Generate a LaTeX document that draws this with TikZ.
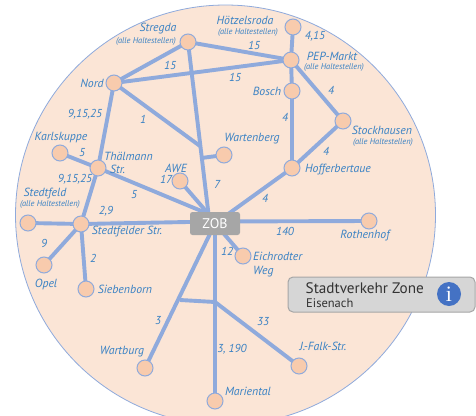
\documentclass[tikz,border=0pt]{standalone}
\usepackage{fontspec}
\setmainfont{PT Sans}
\newfontfamily\serifi{Liberation Serif}
\definecolor{disc}{HTML}{FBE5D6}
\definecolor{stationfill}{HTML}{F8CBAD}
\definecolor{route}{HTML}{8FAADC}
\definecolor{labelblue}{HTML}{3A82C4}
\definecolor{hubgrey}{HTML}{A6A6A6}
\definecolor{boxgrey}{HTML}{D6D6D6}
\definecolor{infoblue}{HTML}{4472C4}
\pgfdeclarelayer{disclayer}
\pgfdeclarelayer{routes}
\pgfsetlayers{disclayer,routes,main}
\tikzset{
  station/.style={circle,draw=route,fill=stationfill,line width=1pt,minimum size=16pt,inner sep=0pt},
  routeline/.style={draw=route,line width=3.9pt},
  stopname/.style={text=labelblue,font=\fontsize{11.8}{13.5}\selectfont\itshape,inner sep=0pt,align=left},
  stopnote/.style={text=labelblue,font=\fontsize{8.4}{9}\selectfont\itshape,inner sep=0pt},
  routenum/.style={text=labelblue,font=\fontsize{11.5}{12}\selectfont\itshape,inner sep=0pt},
}
\begin{document}
\begin{tikzpicture}[x=1pt,y=-1pt]
\useasboundingbox (0,0) rectangle (476,415);
\begin{pgfonlayer}{disclayer}
\fill[white] (0,0) rectangle (476,415);
\filldraw[fill=disc,draw=route,line width=0.8pt] (225.5,215) circle[radius=210];
\end{pgfonlayer}
% stations
\node[station] (stregda) at (188,42) {};
\node[station] (hoetz) at (293,27) {};
\node[station] (pep) at (291,60) {};
\node[station] (bosch) at (292,91) {};
\node[station] (stock) at (343,121) {};
\node[station] (hoff) at (292,168) {};
\node[station] (nord) at (114,83) {};
\node[station] (warten) at (224,155) {};
\node[station] (karls) at (60,153) {};
\node[station] (thael) at (98,168) {};
\node[station] (awe) at (180,181) {};
\node[station] (stedtfeld) at (28,223) {};
\node[station] (stedtstr) at (81,224) {};
\node[station] (opel) at (44,265) {};
\node[station] (sieben) at (86,289) {};
\node[station] (wartburg) at (145,368) {};
\node[station] (mari) at (215,401) {};
\node[station] (falk) at (299,366) {};
\node[station] (roth) at (369,221) {};
\node[station] (eich) at (243,256) {};
\node[fill=hubgrey,rounded corners=2.5pt,minimum width=50pt,minimum height=23pt,inner sep=0pt,text=white,font=\fontsize{14}{15}\selectfont] (zob) at (215,223.5) {ZOB};
% junctions
\coordinate (zobtop) at (208.5,214);
\coordinate (zobmid) at (215,221.5);
\coordinate (jnord) at (200,146);
\coordinate (jwarten) at (201.6,158);
\coordinate (jthree) at (180,300);
\coordinate (jmari) at (215,302);
% routes
\begin{pgfonlayer}{routes}
\path[routeline] (nord.center) -- (stregda.center);
\path[routeline] (stregda.center) -- (pep.center);
\path[routeline] (nord.center) -- (pep.center);
\path[routeline] (hoetz.center) -- (pep.center);
\path[routeline] (pep.center) -- (bosch.center);
\path[routeline] (bosch.center) -- (hoff.center);
\path[routeline] (pep.center) -- (stock.center);
\path[routeline] (stock.center) -- (hoff.center);
\path[routeline] (hoff.center) -- (zob.center);
\path[routeline] (stregda.center) -- (zobtop);
\path[routeline] (nord.center) -- (jnord);
\path[routeline] (warten.center) -- (jwarten);
\path[routeline] (nord.center) -- (thael.center);
\path[routeline] (karls.center) -- (thael.center);
\path[routeline] (thael.center) -- (zobtop);
\path[routeline] (thael.center) -- (stedtstr.center);
\path[routeline] (awe.center) -- (zobtop);
\path[routeline] (stedtfeld.center) -- (stedtstr.center);
\path[routeline] (stedtstr.center) -- (zobmid);
\path[routeline] (stedtstr.center) -- (opel.center);
\path[routeline] (stedtstr.center) -- (sieben.center);
\path[routeline] (zobmid) -- (roth.center);
\path[routeline] (zob.center) -- (eich.center);
\path[routeline] (zob.center) -- (wartburg.center);
\path[routeline] (zob.center) -- (mari.center);
\path[routeline] (jthree) -- (jmari);
\path[routeline] (jmari) -- (falk.center);
\end{pgfonlayer}
% station names
\node[stopname] (tstregda) at (158,29) {Stregda};
\node[stopnote] (nstregda) at (146,41) {(alle Haltestellen)};
\node[stopname] (thoetz) at (245,20) {Hötzelsroda};
\node[stopnote] (nhoetz) at (248,32) {(alle Haltestellen)};
\node[stopname] (tpep) at (332,56) {PEP-Markt};
\node[stopnote] (npep) at (334,67) {(alle Haltestellen)};
\node[stopname] (tbosch) at (267,91) {Bosch};
\node[stopname] (tstock) at (382,130) {Stockhausen};
\node[stopnote] (nstock) at (383,142) {(alle Haltestellen)};
\node[stopname] (thoff) at (338,170) {Hofferbertaue};
\node[stopname] (tnord) at (92,83) {Nord};
\node[stopname] (twarten) at (252,139) {Wartenberg};
\node[stopname] (tkarls) at (61,138) {Karlskuppe};
\node[stopname,anchor=west] (tthael) at (104,162.5) {Thälmann\\[-0.5pt]\hspace*{6pt}Str.};
\node[stopname] (tawe) at (176,168) {AWE};
\node[stopname] (tstedtfeld) at (45,194) {Stedtfeld};
\node[stopnote] (nstedtfeld) at (50,204) {(alle Haltestellen)};
\node[stopname] (tstedtstr) at (127,232) {Stedtfelder Str.};
\node[stopname] (topel) at (46,284) {Opel};
\node[stopname] (tsieben) at (125,289) {Siebenborn};
\node[stopname] (twartburg) at (122,352) {Wartburg};
\node[stopname] (tmari) at (248,391) {Mariental};
\node[stopname] (tfalk) at (323,346) {J.-Falk-Str.};
\node[stopname] (troth) at (365,236) {Rothenhof};
\node[stopname,anchor=west] (teich) at (253,264.5) {Eichrodter\\Weg};
% route numbers
\node[routenum] (r1) at (170,65) {15};
\node[routenum] (r2) at (254,45) {15};
\node[routenum] (r3) at (235,77) {15};
\node[routenum] (r4) at (315,36) {4,15};
\node[routenum] (r5) at (331,90) {4};
\node[routenum] (r6) at (285,117) {4};
\node[routenum] (r7) at (326,151) {4};
\node[routenum] (r8) at (265,198) {4};
\node[routenum] (r9) at (85,114) {9,15,25};
\node[routenum] (r10) at (143,119) {1};
\node[routenum] (r11) at (82,153) {5};
\node[routenum] (r12) at (75,179) {9,15,25};
\node[routenum] (r13) at (217,184) {7};
\node[routenum] (r14) at (134,195) {5};
\node[routenum] (r15) at (166,179) {17};
\node[routenum] (r16) at (106,211) {2,9};
\node[routenum] (r17) at (44,243) {9};
\node[routenum] (r18) at (93,258) {2};
\node[routenum] (r19) at (227,251) {12};
\node[routenum] (r20) at (285,231) {140};
\node[routenum] (r21) at (158,321) {3};
\node[routenum] (r22) at (232,349) {3, 190};
\node[routenum] (r23) at (263,322) {33};
% info box
\node[draw=hubgrey,fill=boxgrey,line width=1pt,rounded corners=5pt,minimum width=187pt,minimum height=35pt,inner sep=0pt] (box) at (381.5,294.5) {};
\node[anchor=west,inner sep=0pt,text=black!80,font=\fontsize{15.2}{16}\selectfont] (boxtitle) at (305.5,288.5) {Stadtverkehr Zone};
\node[anchor=west,inner sep=0pt,text=black!80,font=\fontsize{12.5}{13}\selectfont] (boxsub) at (306,303) {Eisenach};
\node[circle,fill=infoblue,minimum size=24pt,inner sep=0pt,text=white,font=\fontsize{22}{22}\selectfont\serifi] (info) at (449,294) {i};
\end{tikzpicture}
\end{document}
